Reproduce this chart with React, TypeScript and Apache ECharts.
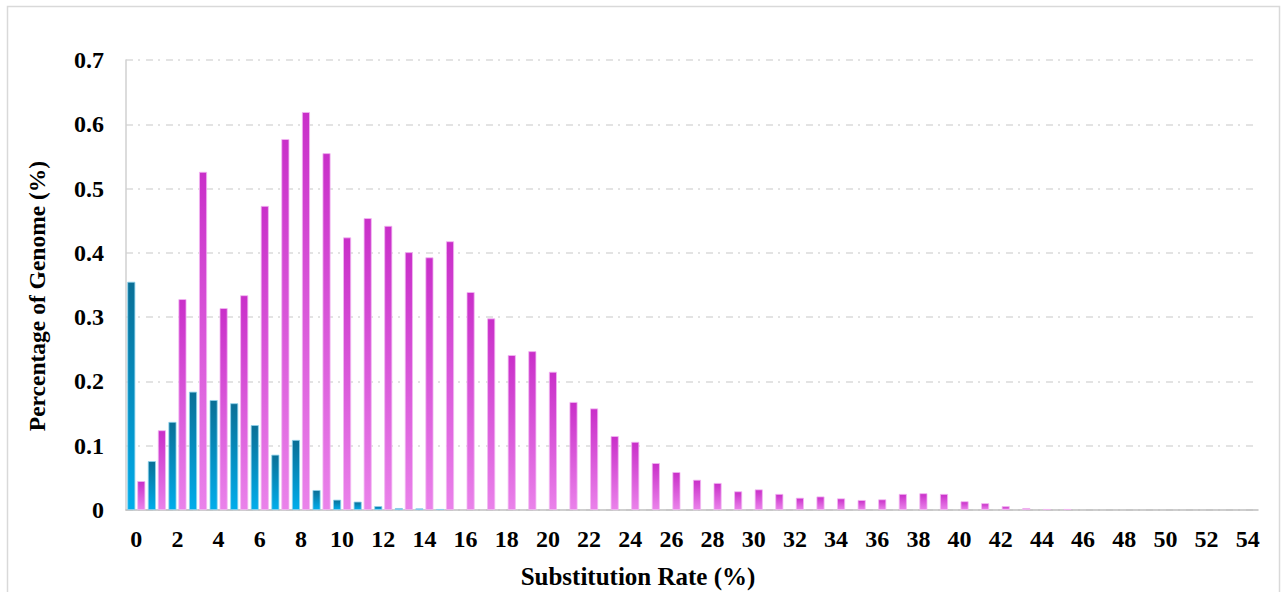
import React, { useEffect, useRef } from "react";
import * as echarts from "echarts";

const categories: string[] = Array.from({ length: 55 }, (_, i) => String(i));

const blueValues: number[] = [
  0.355, 0.076, 0.137, 0.184, 0.171, 0.166, 0.132, 0.086, 0.109, 0.031,
  0.016, 0.013, 0.006, 0.003, 0.0025, 0.0015, 0, 0, 0, 0,
  0, 0, 0, 0, 0, 0, 0, 0, 0, 0,
  0, 0, 0, 0, 0, 0, 0, 0, 0, 0,
  0, 0, 0, 0, 0, 0, 0, 0, 0, 0,
  0, 0, 0, 0, 0,
];

const magentaValues: number[] = [
  0.045, 0.124, 0.328, 0.526, 0.314, 0.334, 0.473, 0.577, 0.619, 0.555,
  0.424, 0.454, 0.442, 0.401, 0.393, 0.418, 0.339, 0.298, 0.241, 0.247,
  0.215, 0.168, 0.158, 0.115, 0.106, 0.073, 0.059, 0.047, 0.042, 0.029,
  0.032, 0.025, 0.019, 0.021, 0.018, 0.0155, 0.0165, 0.025, 0.026, 0.025,
  0.0135, 0.0105, 0.006, 0.003, 0.0015, 0.0015, 0, 0, 0, 0,
  0, 0, 0, 0, 0,
];

const xTitle = "Substitution Rate (%)";
const yTitle = "Percentage of Genome (%)";

const FONT = "'Liberation Serif', 'Times New Roman', serif";

const hideZero = (arr: number[]) => arr.map((v) => (v === 0 ? "-" : v));

export default function App() {
  const ref = useRef<HTMLDivElement>(null);

  useEffect(() => {
    if (!ref.current) return;
    const chart = echarts.init(ref.current, null, { renderer: "svg" });
    const blueGrad = new echarts.graphic.LinearGradient(0, 0, 0, 1, [
      { offset: 0, color: "#0a6f96" },
      { offset: 1, color: "#00adeb" },
    ]);
    const magGrad = new echarts.graphic.LinearGradient(0, 0, 0, 1, [
      { offset: 0, color: "#c92fc9" },
      { offset: 1, color: "#ea82ea" },
    ]);
    chart.setOption({
      animation: false,
      backgroundColor: "#ffffff",
      grid: { left: 126, right: 28, top: 60, bottom: 82 },
      xAxis: {
        type: "category",
        data: categories,
        axisLine: { show: true, lineStyle: { color: "#bfbfbf", width: 1.5 } },
        axisTick: { show: false },
        axisLabel: {
          interval: 1,
          margin: 17,
          fontFamily: FONT,
          fontWeight: "bold",
          fontSize: 24,
          color: "#000",
        },
        splitLine: { show: false },
      },
      yAxis: {
        type: "value",
        min: 0,
        max: 0.7,
        interval: 0.1,
        axisLine: { show: true, lineStyle: { color: "#d0d0d0", width: 1.5 } },
        axisTick: { show: false },
        axisLabel: {
          margin: 22,
          fontFamily: FONT,
          fontWeight: "bold",
          fontSize: 24,
          color: "#000",
          formatter: (v: number) => (v === 0 ? "0" : v.toFixed(1)),
        },
        splitLine: {
          show: true,
          lineStyle: { color: "#dadada", width: 1.5, type: [7, 5, 2, 6] },
        },
      },
      series: [
        {
          name: "blue",
          type: "bar",
          data: hideZero(blueValues),
          barWidth: 8,
          barGap: "25%",
          itemStyle: {
            color: blueGrad,
            borderColor: "#8fd3ee",
            borderWidth: 0.8,
          },
        },
        {
          name: "magenta",
          type: "bar",
          data: hideZero(magentaValues),
          barWidth: 8,
          barGap: "25%",
          itemStyle: {
            color: magGrad,
            borderColor: "#f3b8f3",
            borderWidth: 0.8,
          },
        },
      ],
      graphic: [
        {
          type: "rect",
          shape: { x: 7.5, y: 6.5, width: 1272, height: 600 },
          style: { fill: "none", stroke: "#d9d9d9", lineWidth: 1.5 },
          silent: true,
          z: -1,
        },
        {
          type: "text",
          x: 638,
          y: 576,
          style: {
            text: xTitle,
            fontFamily: FONT,
            fontWeight: "bold",
            fontSize: 25,
            fill: "#000",
            align: "center",
            verticalAlign: "middle",
          },
        },
        {
          type: "text",
          x: 37,
          y: 296,
          rotation: Math.PI / 2,
          style: {
            text: yTitle,
            fontFamily: FONT,
            fontWeight: "bold",
            fontSize: 23.5,
            fill: "#000",
            align: "center",
            verticalAlign: "middle",
          },
        },
      ],
    });
    return () => chart.dispose();
  }, []);

  return (
    <div
      ref={ref}
      style={{ position: "fixed", left: 0, top: 0, width: 1286, height: 592 }}
    />
  );
}
